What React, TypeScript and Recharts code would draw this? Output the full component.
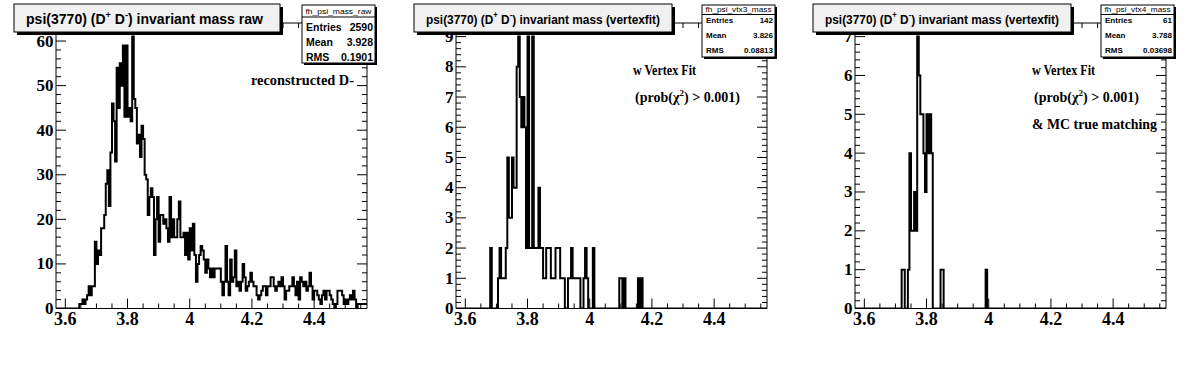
import type { FC } from 'react';
import { LineChart, Line, XAxis, YAxis } from 'recharts';

// histogram binning: 200 bins of 5 MeV between 3.57 and 4.57 GeV
const X_MIN = 3.57;
const X_MAX = 4.57;
const BIN_WIDTH = 0.005;

const rawCounts = [
  0, 0, 0, 0, 0, 0, 0, 0, 0, 0, 0, 0, 0, 0, 0, 1, 1, 2, 1, 2,
  3, 5, 3, 5, 5, 15, 10, 13, 12, 18, 18, 21, 28, 31, 23, 35, 46, 42, 33, 54,
  45, 55, 50, 59, 43, 59, 43, 45, 42, 61, 47, 45, 37, 39, 34, 41, 38, 30, 29, 21,
  25, 27, 25, 12, 20, 25, 15, 21, 21, 19, 20, 18, 15, 25, 16, 20, 16, 16, 20, 24,
  16, 16, 17, 12, 17, 11, 18, 13, 19, 12, 6, 10, 12, 14, 13, 11, 8, 11, 9, 7,
  9, 7, 9, 9, 9, 9, 6, 3, 6, 14, 6, 3, 11, 6, 7, 13, 5, 6, 4, 6,
  10, 7, 4, 5, 6, 8, 6, 5, 5, 3, 2, 3, 4, 5, 5, 3, 5, 5, 7, 7,
  5, 4, 5, 6, 5, 7, 5, 2, 4, 4, 5, 5, 7, 5, 3, 6, 2, 7, 6, 5,
  6, 4, 5, 8, 5, 2, 4, 4, 3, 2, 1, 3, 4, 2, 4, 4, 3, 2, 1, 0,
  1, 4, 4, 4, 3, 1, 2, 1, 2, 3, 2, 4, 2, 0, 1, 1, 1, 1, 1, 1,
];

const vtx3Counts = [
  0, 0, 0, 0, 0, 0, 0, 0, 0, 0, 0, 0, 0, 0, 0, 0, 0, 0, 0, 0,
  0, 0, 2, 0, 0, 0, 0, 1, 2, 1, 1, 1, 2, 5, 3, 3, 5, 4, 4, 8,
  9, 7, 6, 7, 6, 2, 9, 2, 2, 9, 2, 2, 2, 4, 2, 2, 1, 1, 2, 2,
  2, 1, 1, 1, 2, 2, 2, 1, 1, 1, 0, 0, 1, 1, 2, 1, 1, 1, 1, 1,
  0, 0, 1, 2, 1, 0, 0, 0, 2, 0, 0, 0, 0, 0, 0, 0, 0, 0, 0, 0,
  0, 0, 0, 0, 0, 1, 1, 0, 1, 0, 0, 0, 0, 0, 0, 0, 0, 1, 0, 1,
  0, 0, 0, 0, 0, 0, 0, 0, 0, 0, 0, 0, 0, 0, 0, 0, 0, 0, 0, 0,
  0, 0, 0, 0, 0, 0, 0, 0, 0, 0, 0, 0, 0, 0, 0, 0, 0, 0, 0, 0,
  0, 0, 0, 0, 0, 0, 0, 0, 0, 0, 0, 0, 0, 0, 0, 0, 0, 0, 0, 0,
  0, 0, 0, 0, 0, 0, 0, 0, 0, 0, 0, 0, 0, 0, 0, 0, 0, 0, 0, 0,
];

const vtx4Counts = [
  0, 0, 0, 0, 0, 0, 0, 0, 0, 0, 0, 0, 0, 0, 0, 0, 0, 0, 0, 0,
  0, 0, 0, 0, 0, 0, 0, 0, 0, 0, 1, 1, 0, 0, 1, 4, 2, 2, 3, 2,
  7, 6, 5, 5, 4, 3, 5, 4, 5, 4, 0, 0, 0, 0, 0, 1, 1, 0, 0, 0,
  0, 0, 0, 0, 0, 0, 0, 0, 0, 0, 0, 0, 0, 0, 0, 0, 0, 0, 0, 0,
  0, 0, 0, 0, 1, 0, 0, 0, 0, 0, 0, 0, 0, 0, 0, 0, 0, 0, 0, 0,
  0, 0, 0, 0, 0, 0, 0, 0, 0, 0, 0, 0, 0, 0, 0, 0, 0, 0, 0, 0,
  0, 0, 0, 0, 0, 0, 0, 0, 0, 0, 0, 0, 0, 0, 0, 0, 0, 0, 0, 0,
  0, 0, 0, 0, 0, 0, 0, 0, 0, 0, 0, 0, 0, 0, 0, 0, 0, 0, 0, 0,
  0, 0, 0, 0, 0, 0, 0, 0, 0, 0, 0, 0, 0, 0, 0, 0, 0, 0, 0, 0,
  0, 0, 0, 0, 0, 0, 0, 0, 0, 0, 0, 0, 0, 0, 0, 0, 0, 0, 0, 0,
];

const xMajorTicks = [3.6, 3.8, 4.0, 4.2, 4.4];
const xMinorTicks = [3.65, 3.7, 3.75, 3.85, 3.9, 3.95, 4.05, 4.1, 4.15, 4.25, 4.3, 4.35, 4.45, 4.5, 4.55];

const rawYMajor = [0, 10, 20, 30, 40, 50, 60];
const vtx3YMajor = [0, 1, 2, 3, 4, 5, 6, 7, 8, 9];
const vtx4YMajor = [0, 1, 2, 3, 4, 5, 6, 7];

const titles = ['raw', '(vertexfit)', '(vertexfit)'];
const statNames = ['fh_psi_mass_raw', 'fh_psi_vtx3_mass', 'fh_psi_vtx4_mass'];
const statEntries = ['2590', '142', '61'];
const statMeans = ['3.928', '3.826', '3.788'];
const statRms = ['0.1901', '0.08813', '0.03698'];

const PANEL_W = 398;
const PANEL_H = 372;
// axes take 1px each, so the frame runs x 56..367, y 23..308.5
const MARGIN = { top: 22, right: 30, bottom: 62.5, left: 55 };

const serif = '"Liberation Serif", "Times New Roman", serif';
const sans = '"Liberation Sans", Arial, Helvetica, sans-serif';

const near = (a: number, b: number) => Math.abs(a - b) < 1e-6;
const isMajor = (v: number, majors: number[]) => majors.some(m => near(m, v));

// minor ticks between majors (5 subdivisions), up to max
const minorTicks = (step: number, max: number, majors: number[]) => {
  const out: number[] = [];
  for (let k = 1; k * step <= max + 1e-9; k++) {
    const v = +(k * step).toFixed(4);
    if (!isMajor(v, majors)) out.push(v);
  }
  return out;
};

const toSteps = (counts: number[]) =>
  counts
    .map((c, i) => ({ x: +(X_MIN + i * BIN_WIDTH).toFixed(3), y: c }))
    .concat({ x: X_MAX, y: counts[counts.length - 1] });

const fmt = (v: number) => String(+v.toFixed(2));

const bottomTick = (majors: number[]) => (p: any) => {
  const v = p.payload.value;
  const major = isMajor(v, majors);
  return (
    <g>
      <line x1={p.x} y1={p.y} x2={p.x} y2={p.y - (major ? 10 : 5)} stroke="#000" />
      {major && (
        <text x={p.x} y={p.y + 16.5} textAnchor="middle" fontFamily={serif} fontWeight="bold" fontSize={18} fill="#000">
          {fmt(v)}
        </text>
      )}
    </g>
  );
};

const topTick = (majors: number[]) => (p: any) => {
  const major = isMajor(p.payload.value, majors);
  return <line x1={p.x} y1={p.y} x2={p.x} y2={p.y + (major ? 10 : 5)} stroke="#000" />;
};

const leftTick = (majors: number[]) => (p: any) => {
  const v = p.payload.value;
  const major = isMajor(v, majors);
  return (
    <g>
      <line x1={p.x} y1={p.y} x2={p.x + (major ? 10 : 5)} y2={p.y} stroke="#000" />
      {major && (
        <text x={p.x - 2.5} y={p.y + 5.5} textAnchor="end" fontFamily={serif} fontWeight="bold" fontSize={17} fill="#000">
          {fmt(v)}
        </text>
      )}
    </g>
  );
};

const rightTick = (majors: number[]) => (p: any) => {
  const major = isMajor(p.payload.value, majors);
  return <line x1={p.x} y1={p.y} x2={p.x - (major ? 10 : 5)} y2={p.y} stroke="#000" />;
};

interface Note {
  text: string;
  x: number;
  y: number;
  len: number;
  chi?: boolean;
}

interface PanelProps {
  idx: number;
  left: number;
  counts: number[];
  yMax: number;
  yMajor: number[];
  yStep: number;
  notes: Note[];
}

const Panel: FC<PanelProps> = ({ idx, left, counts, yMax, yMajor, yStep, notes }) => {
  const data = toSteps(counts);
  const xTicks = [...xMajorTicks, ...xMinorTicks].sort((a, b) => a - b);
  const yTicks = [...yMajor, ...minorTicks(yStep, yMax, yMajor)].sort((a, b) => a - b);
  const first = idx === 0;

  // title / stats box geometry (ROOT pave text)
  const tb = first ? { w: 266, fs: 15, len: 237, base: 24 } : { w: 258, fs: 13, len: 234, base: 23.5 };
  const sb = first
    ? { h: 58, hb: 14, line: 17, rows: [30.5, 45.5, 60.5], fs: 10.5 }
    : { h: 52, hb: 12, line: 14.5, rows: [23, 38, 53], fs: 8 };
  const sx = 302;
  const sw = 73;

  return (
    <div style={{ position: 'absolute', left, top: 0, width: PANEL_W, height: PANEL_H }}>
      <LineChart width={PANEL_W} height={PANEL_H} data={data} margin={MARGIN}>
        <XAxis
          xAxisId="b"
          dataKey="x"
          type="number"
          domain={[X_MIN, X_MAX]}
          allowDataOverflow
          ticks={xTicks}
          interval={0}
          height={1}
          tickSize={0}
          tickMargin={0}
          tickLine={false}
          axisLine={{ stroke: '#000' }}
          tick={bottomTick(xMajorTicks)}
        />
        <XAxis
          xAxisId="t"
          orientation="top"
          dataKey="x"
          type="number"
          domain={[X_MIN, X_MAX]}
          allowDataOverflow
          ticks={xTicks}
          interval={0}
          height={1}
          tickSize={0}
          tickMargin={0}
          tickLine={false}
          axisLine={{ stroke: '#000' }}
          tick={topTick(xMajorTicks)}
        />
        <YAxis
          yAxisId="l"
          type="number"
          domain={[0, yMax]}
          allowDataOverflow
          ticks={yTicks}
          interval={0}
          width={1}
          tickSize={0}
          tickMargin={0}
          tickLine={false}
          axisLine={{ stroke: '#000' }}
          tick={leftTick(yMajor)}
        />
        <YAxis
          yAxisId="r"
          orientation="right"
          type="number"
          domain={[0, yMax]}
          allowDataOverflow
          ticks={yTicks}
          interval={0}
          width={1}
          tickSize={0}
          tickMargin={0}
          tickLine={false}
          axisLine={{ stroke: '#000' }}
          tick={rightTick(yMajor)}
        />
        <Line
          xAxisId="b"
          yAxisId="l"
          dataKey="y"
          type="stepAfter"
          stroke="#000"
          strokeWidth={2}
          strokeLinejoin="miter"
          dot={false}
          activeDot={false}
          isAnimationActive={false}
        />
        {/* keeps the top/right axes bound to a series */}
        <Line xAxisId="t" yAxisId="r" dataKey="y" stroke="none" dot={false} activeDot={false} isAnimationActive={false} />
      </LineChart>

      <svg
        width={PANEL_W}
        height={PANEL_H}
        style={{ position: 'absolute', left: 0, top: 0, pointerEvents: 'none' }}
      >
        {/* title */}
        <rect x={17} y={7} width={tb.w} height={28} fill="#000" />
        <rect x={14} y={4} width={tb.w} height={28} fill="#f0f0f0" stroke="#000" />
        <text
          x={26}
          y={tb.base}
          fontFamily={sans}
          fontWeight="bold"
          fontSize={tb.fs}
          fill="#000"
          textLength={tb.len}
          lengthAdjust="spacingAndGlyphs"
        >
          psi(3770) (D<tspan fontSize={tb.fs * 0.65} dy={-6}>+</tspan>
          <tspan dy={6}> D</tspan>
          <tspan fontSize={tb.fs * 0.65} dy={-6}>-</tspan>
          <tspan dy={6}>{`) invariant mass ${titles[idx]}`}</tspan>
        </text>

        {/* stats box */}
        <rect x={sx + 2} y={7} width={sw} height={sb.h} fill="#000" />
        <rect x={sx} y={5} width={sw} height={sb.h} fill="#fff" stroke="#000" />
        <text
          x={sx + sw / 2}
          y={sb.hb}
          textAnchor="middle"
          fontFamily={sans}
          fontSize={8}
          fill="#000"
          textLength={66}
          lengthAdjust="spacingAndGlyphs"
        >
          {statNames[idx]}
        </text>
        <line x1={sx} y1={sb.line} x2={sx + sw} y2={sb.line} stroke="#000" />
        {[
          ['Entries', statEntries[idx]],
          ['Mean', statMeans[idx]],
          ['RMS', statRms[idx]],
        ].map(([k, v], i) => (
          <g key={k}>
            <text x={sx + 4} y={sb.rows[i]} fontFamily={sans} fontWeight="bold" fontSize={sb.fs} fill="#000">
              {k}
            </text>
            <text x={sx + sw - 2} y={sb.rows[i]} textAnchor="end" fontFamily={sans} fontWeight="bold" fontSize={sb.fs} fill="#000">
              {v}
            </text>
          </g>
        ))}

        {/* annotations */}
        {notes.map(n => (
          <text
            key={n.text}
            x={n.x}
            y={n.y}
            fontFamily={serif}
            fontWeight="bold"
            fontSize={14}
            fill="#000"
            textLength={n.len}
            lengthAdjust="spacingAndGlyphs"
          >
            {n.chi ? (
              <>
                (prob(χ<tspan fontSize={9} dy={-6}>2</tspan>
                <tspan dy={6}>) &gt; 0.001)</tspan>
              </>
            ) : (
              n.text
            )}
          </text>
        ))}
      </svg>
    </div>
  );
};

const vertexNotes: Note[] = [
  { text: 'w Vertex Fit', x: 233, y: 75, len: 63 },
  { text: 'prob', x: 235, y: 102, len: 105, chi: true },
];

const App: FC = () => (
  <div
    style={{
      position: 'absolute',
      left: 0,
      top: 0,
      width: 1196,
      height: 372,
      background: '#fff',
      overflow: 'hidden',
    }}
  >
    <Panel
      idx={0}
      left={0}
      counts={rawCounts}
      yMax={64.05}
      yMajor={rawYMajor}
      yStep={2}
      notes={[{ text: 'reconstructed D-', x: 251, y: 85, len: 103 }]}
    />
    <Panel idx={1} left={400} counts={vtx3Counts} yMax={9.45} yMajor={vtx3YMajor} yStep={0.2} notes={vertexNotes} />
    <Panel
      idx={2}
      left={799}
      counts={vtx4Counts}
      yMax={7.35}
      yMajor={vtx4YMajor}
      yStep={0.2}
      notes={[...vertexNotes, { text: '& MC true matching', x: 233, y: 129, len: 125 }]}
    />
  </div>
);

export default App;
